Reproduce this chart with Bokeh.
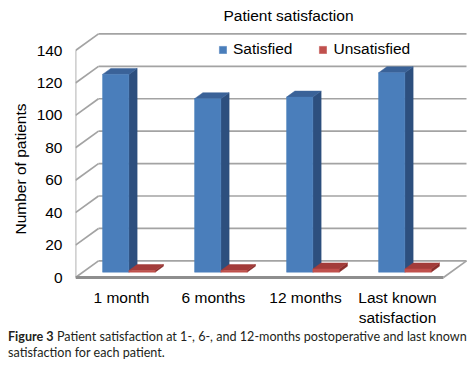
import math
from bokeh.plotting import figure
from bokeh.models import Range1d, FixedTicker, Legend, LegendItem, Label, Div, Title
from bokeh.layouts import column
from bokeh.embed import file_html
from bokeh.resources import INLINE

# ---------------- data ----------------
categories = ["1 month", "6 months", "12 months", "Last known\nsatisfaction"]
satisfied = [122, 107, 108, 123]
unsatisfied = [1, 1, 2, 2]
series_names = ["Satisfied", "Unsatisfied"]
y_ticks = [0, 20, 40, 60, 80, 100, 120, 140]
title_text = "Patient satisfaction"
y_label_text = "Number of patients"
caption_bold = "Figure 3"
caption_line1 = " Patient satisfaction at 1-, 6-, and 12-months postoperative and last known"
caption_line2 = "satisfaction for each patient."

# ---------------- geometry / style ----------------
FONT = "Liberation Sans"
FS = "15.5px"
PX_PER_CAT = 92.0
PX_PER_UNIT = 1.627
LEFT = 75
FIG_W = 475
FRAME_W, FRAME_H = FIG_W - LEFT, 280
DX = 23.0 / PX_PER_CAT          # depth shift along x (data units) for full depth
DY = 16.7 / PX_PER_UNIT         # depth shift along y (data units) for full depth
BAR_W = 1 / 3.5
F0, F1 = 0.32, 0.68
GRID = "#a3a3a3"

colors = {
    "Satisfied": ("#4a7ebb", "#2d4f7e", "#3a6298"),   # front, side, top
    "Unsatisfied": ("#c0504d", "#8a2e2c", "#a33c3a"),
}

def proj(x, v, f):
    return x + f * DX, v + f * DY

y0 = -(280 - 278) / PX_PER_UNIT
y1 = y0 + FRAME_H / PX_PER_UNIT

p = figure(width=FIG_W, height=328, x_range=Range1d(0, FRAME_W / PX_PER_CAT),
           y_range=Range1d(y0, y1), output_backend="svg", toolbar_location=None,
           tools="", min_border_left=LEFT, min_border_right=0, min_border_top=0,
           min_border_bottom=48, outline_line_color=None,
           background_fill_color="white", border_fill_color="white")
p.xgrid.visible = False
p.ygrid.visible = False

n = len(categories)
# back wall grid lines
bx0, by0, bx1, by1 = [], [], [], []
for v in y_ticks:
    a = proj(0, v, 1); b = proj(n, v, 1)
    bx0.append(a[0]); by0.append(a[1]); bx1.append(b[0]); by1.append(b[1])
p.segment(bx0, by0, bx1, by1, line_color=GRID, line_width=1.7)
# left wall diagonals
lx0, ly0, lx1, ly1 = [], [], [], []
for v in y_ticks:
    a = proj(0, v, 0); b = proj(0, v, 1)
    lx0.append(a[0]); ly0.append(a[1]); lx1.append(b[0]); ly1.append(b[1])
p.segment(lx0, ly0, lx1, ly1, line_color=GRID, line_width=1.7)
# front left edge (axis)
p.segment([0], [y_ticks[0]], [0], [y_ticks[-1]], line_color=GRID, line_width=1.7)
# floor edges
fr = proj(n, 0, 1)
p.segment([n], [0], [fr[0]], [fr[1]], line_color=GRID, line_width=1.7)
p.segment([0], [0], [n], [0], line_color="#8e8e8e", line_width=3)

front_renderers = {}
for i in range(n):
    for k, (name, vals) in enumerate(zip(series_names, [satisfied, unsatisfied])):
        val = vals[i]
        x0 = i + 0.75 * BAR_W + k * BAR_W
        x1 = x0 + BAR_W
        cf, cs, ct = colors[name]
        side = [proj(x1, 0, F0), proj(x1, 0, F1), proj(x1, val, F1), proj(x1, val, F0)]
        top = [proj(x0, val, F0), proj(x1, val, F0), proj(x1, val, F1), proj(x0, val, F1)]
        front = [proj(x0, 0, F0), proj(x1, 0, F0), proj(x1, val, F0), proj(x0, val, F0)]
        p.patch([q[0] for q in side], [q[1] for q in side], fill_color=cs, line_color=cs, line_width=0.5)
        p.patch([q[0] for q in top], [q[1] for q in top], fill_color=ct, line_color=ct, line_width=0.5)
        r = p.patch([q[0] for q in front], [q[1] for q in front], fill_color=cf, line_color=cf, line_width=0.5)
        front_renderers.setdefault(name, r)

# axes
ya = p.yaxis[0]
ya.ticker = FixedTicker(ticks=y_ticks)
ya.axis_line_color = None
ya.major_tick_line_color = None
ya.minor_tick_line_color = None
ya.major_tick_out = 0
ya.major_label_standoff = 13
ya.major_label_text_font = FONT
ya.major_label_text_font_size = FS
ya.major_label_text_color = "black"

xa = p.xaxis[0]
xa.ticker = FixedTicker(ticks=[i + 0.5 for i in range(n)])
xa.major_label_overrides = {i + 0.5: c for i, c in enumerate(categories)}
xa.axis_line_color = None
xa.major_tick_line_color = None
xa.minor_tick_line_color = None
xa.major_tick_out = 0
xa.major_label_standoff = 9
xa.major_label_text_font = FONT
xa.major_label_text_font_size = FS
xa.major_label_text_color = "black"

# legend
legend = Legend(items=[LegendItem(label=nm, renderers=[front_renderers[nm]]) for nm in series_names],
                location=(143, 221), orientation="horizontal", glyph_width=9, glyph_height=9,
                label_standoff=6, spacing=26, padding=0, margin=0,
                border_line_color=None, background_fill_alpha=0,
                label_text_font=FONT, label_text_font_size=FS, label_text_color="black")
p.add_layout(legend)

# chart title (inside the drawing area) and y-axis title (left side)
p.add_layout(Label(x=(288 - LEFT) / PX_PER_CAT, y=(278 - 15) / PX_PER_UNIT, text=title_text,
                   text_align="center", text_baseline="middle", text_font=FONT,
                   text_font_size=FS, text_color="black"))
p.add_layout(Title(text=y_label_text, align="left", offset=45, standoff=10,
                   text_font=FONT, text_font_size=FS, text_font_style="normal",
                   text_color="black"), "left")

caption = Div(text='<span style="font-weight:bold">' + caption_bold + '</span>' + caption_line1 +
              '<br>' + caption_line2, width=FIG_W, height=36, margin=(0, 0, 0, 0),
              styles={"font-family": "Lato", "font-size": "12.6px", "line-height": "16px",
                      "white-space": "nowrap", "color": "#231f20", "padding-top": "1px",
                      "padding-left": "8px"})

layout = column(p, caption, spacing=0)
open("out.html", "w").write(file_html(layout, INLINE))
